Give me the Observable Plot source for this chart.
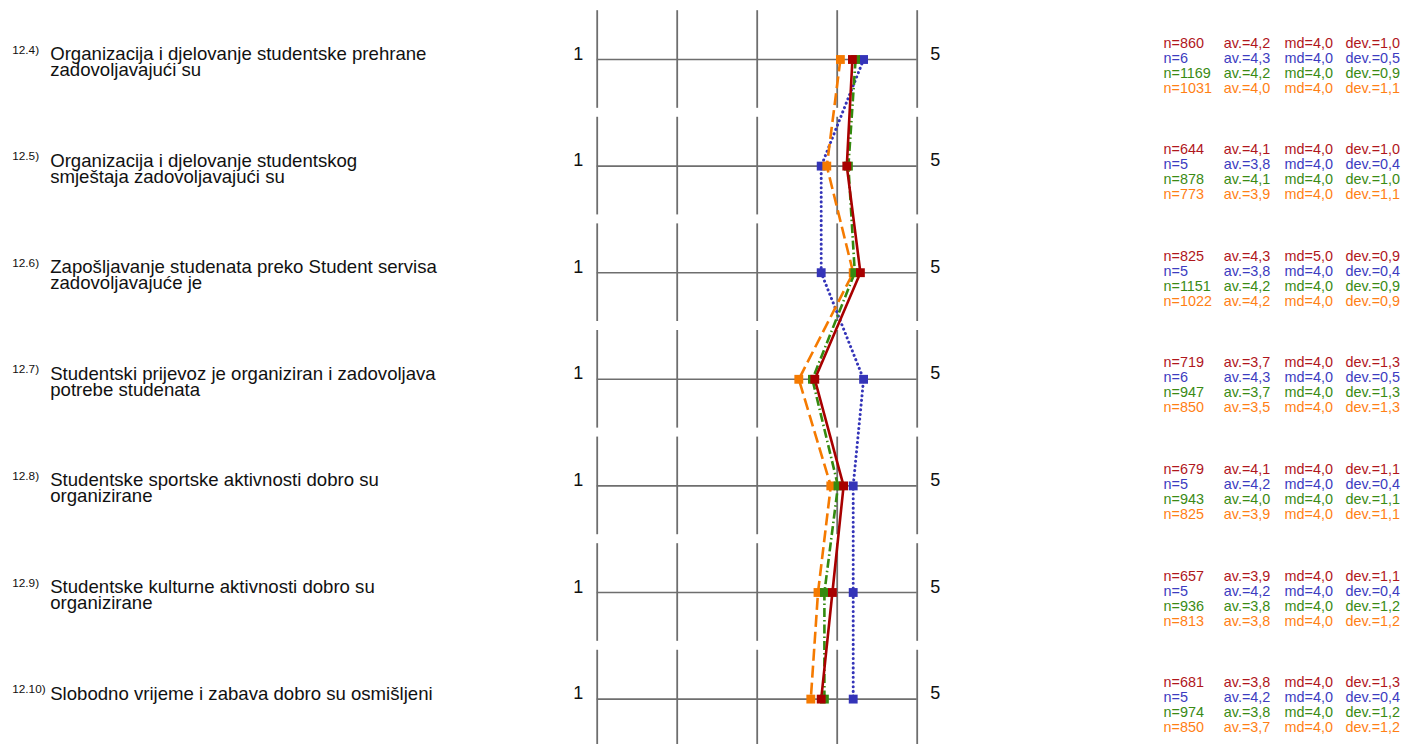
<!DOCTYPE html>
<html><head><meta charset="utf-8">
<script src="https://cdn.jsdelivr.net/npm/d3@7"></script>
<script src="https://cdn.jsdelivr.net/npm/@observablehq/plot@0.6"></script>
<style>body{margin:0;background:#fff} svg{display:block}</style>
</head><body><div id="chart"></div>
<script>
// ---- data ----
const codes = ["12.4)", "12.5)", "12.6)", "12.7)", "12.8)", "12.9)", "12.10)"];
const questions = [
  "Organizacija i djelovanje studentske prehrane\nzadovoljavajući su",
  "Organizacija i djelovanje studentskog\nsmještaja zadovoljavajući su",
  "Zapošljavanje studenata preko Student servisa\nzadovoljavajuće je",
  "Studentski prijevoz je organiziran i zadovoljava\npotrebe studenata",
  "Studentske sportske aktivnosti dobro su\norganizirane",
  "Studentske kulturne aktivnosti dobro su\norganizirane",
  "Slobodno vrijeme i zabava dobro su osmišljeni"
];
const scaleTicks = [1, 2, 3, 4, 5];
const scaleMinLabel = "1";
const scaleMaxLabel = "5";

const series = ["red", "blue", "green", "orange"];

const redMeans    = [4.19, 4.12, 4.29, 3.72, 4.08, 3.94, 3.80];
const blueMeans   = [4.33, 3.80, 3.80, 4.33, 4.20, 4.20, 4.20];
const greenMeans  = [4.23, 4.14, 4.22, 3.69, 4.01, 3.84, 3.84];
const orangeMeans = [4.04, 3.87, 4.20, 3.52, 3.92, 3.76, 3.67];

const redN    = [860, 644, 825, 719, 679, 657, 681];
const blueN   = [6, 5, 5, 6, 5, 5, 5];
const greenN  = [1169, 878, 1151, 947, 943, 936, 974];
const orangeN = [1031, 773, 1022, 850, 825, 813, 850];

const redAv    = ["4,2", "4,1", "4,3", "3,7", "4,1", "3,9", "3,8"];
const blueAv   = ["4,3", "3,8", "3,8", "4,3", "4,2", "4,2", "4,2"];
const greenAv  = ["4,2", "4,1", "4,2", "3,7", "4,0", "3,8", "3,8"];
const orangeAv = ["4,0", "3,9", "4,2", "3,5", "3,9", "3,8", "3,7"];

const redMd    = ["4,0", "4,0", "5,0", "4,0", "4,0", "4,0", "4,0"];
const blueMd   = ["4,0", "4,0", "4,0", "4,0", "4,0", "4,0", "4,0"];
const greenMd  = ["4,0", "4,0", "4,0", "4,0", "4,0", "4,0", "4,0"];
const orangeMd = ["4,0", "4,0", "4,0", "4,0", "4,0", "4,0", "4,0"];

const redDev    = ["1,0", "1,0", "0,9", "1,3", "1,1", "1,1", "1,3"];
const blueDev   = ["0,5", "0,4", "0,4", "0,5", "0,4", "0,4", "0,4"];
const greenDev  = ["0,9", "1,0", "0,9", "1,3", "1,1", "1,2", "1,2"];
const orangeDev = ["1,1", "1,1", "0,9", "1,3", "1,1", "1,2", "1,2"];

// ---- build tables ----
const means = {red: redMeans, blue: blueMeans, green: greenMeans, orange: orangeMeans};
const ns = {red: redN, blue: blueN, green: greenN, orange: orangeN};
const avs = {red: redAv, blue: blueAv, green: greenAv, orange: orangeAv};
const mds = {red: redMd, blue: blueMd, green: greenMd, orange: orangeMd};
const devs = {red: redDev, blue: blueDev, green: greenDev, orange: orangeDev};

const colors = {red: "#a80000", blue: "#3434b8", green: "#348a10", orange: "#f57a00"};
const textColors = {red: "#b0161c", blue: "#3c3cc0", green: "#3a8a14", orange: "#ff7f15"};
const widths = {red: 2.6, blue: 3, green: 2.6, orange: 2.6};
const dashes = {red: null, blue: "0.1,4.6", green: "9,3,1.5,3", orange: "12,5"};
const caps = {red: "butt", blue: "round", green: "butt", orange: "butt"};

const rows = questions.map((q, i) => ({row: i, code: codes[i], q}));
const table = [];
series.forEach((s, k) => rows.forEach(r => table.push({
  series: s, k, row: r.row, mean: means[s][r.row],
  n: "n=" + ns[s][r.row], av: "av.=" + avs[s][r.row],
  md: "md=" + mds[s][r.row], dev: "dev.=" + devs[s][r.row]
})));
const labelLines = rows.flatMap(r => r.q.split("\n").map((t, j) => ({row: r.row, j, t})));
const gridSegs = rows.flatMap(r => scaleTicks.map(t => ({row: r.row, t})));

const drawOrder = ["blue", "orange", "green", "red"];
const font = "'Liberation Sans', Arial, Helvetica, sans-serif";
const x0 = scaleTicks[0], x1 = scaleTicks[scaleTicks.length - 1];

const marks = [
  Plot.ruleX(gridSegs, {x: "t", y1: d => d.row - 0.458, y2: d => d.row + 0.458, stroke: "#6e6e6e", strokeWidth: 1.8}),
  Plot.ruleY(rows, {y: "row", x1: x0, x2: x1, stroke: "#6e6e6e", strokeWidth: 1.6}),
  ...drawOrder.map(s => Plot.line(table.filter(d => d.series === s), {
    x: "mean", y: "row", stroke: colors[s], strokeWidth: widths[s],
    strokeDasharray: dashes[s], strokeLinecap: caps[s], curve: "linear"
  })),
  ...drawOrder.map(s => Plot.dot(table.filter(d => d.series === s), {
    x: "mean", y: "row", symbol: "square", r: 5, fill: colors[s], stroke: "none"
  })),
  Plot.text(rows, {x: x0, y: "row", text: () => scaleMinLabel, dx: -19, textAnchor: "middle", lineAnchor: "bottom", fontSize: 18, fill: "#111"}),
  Plot.text(rows, {x: x1, y: "row", text: () => scaleMaxLabel, dx: 18, textAnchor: "middle", lineAnchor: "bottom", fontSize: 18, fill: "#111"}),
  Plot.text(rows, {x: x0, y: "row", text: "code", dx: -585, dy: -6, textAnchor: "start", lineAnchor: "bottom", fontSize: 11.8, fill: "#111"}),
  ...[0, 1].map(j => Plot.text(labelLines.filter(d => d.j === j), {
    x: x0, y: "row", text: "t", dx: -547, dy: 0.5 + 16 * j,
    textAnchor: "start", lineAnchor: "bottom", fontSize: 18.6, fill: "#111"
  })),
  ...series.flatMap((s, k) => [["n", 246.3], ["av", 306.6], ["md", 367.3], ["dev", 428.3]].map(([key, off]) =>
    Plot.text(table.filter(d => d.series === s), {x: x1, y: "row", text: key, dx: off,
      dy: -12 + 15 * k, textAnchor: "start", lineAnchor: "bottom",
      fontSize: 14.4, fill: textColors[s]})))
];

const chart = Plot.plot({
  width: 1406, height: 744,
  marginLeft: 596.7, marginRight: 489.3, marginTop: 59, marginBottom: 45.4,
  x: {domain: [1, 5], axis: null},
  y: {domain: [0, 6], reverse: true, axis: null},
  style: {fontFamily: font, background: "#fff"},
  marks
});
document.getElementById("chart").appendChild(chart);
</script>
</body></html>
